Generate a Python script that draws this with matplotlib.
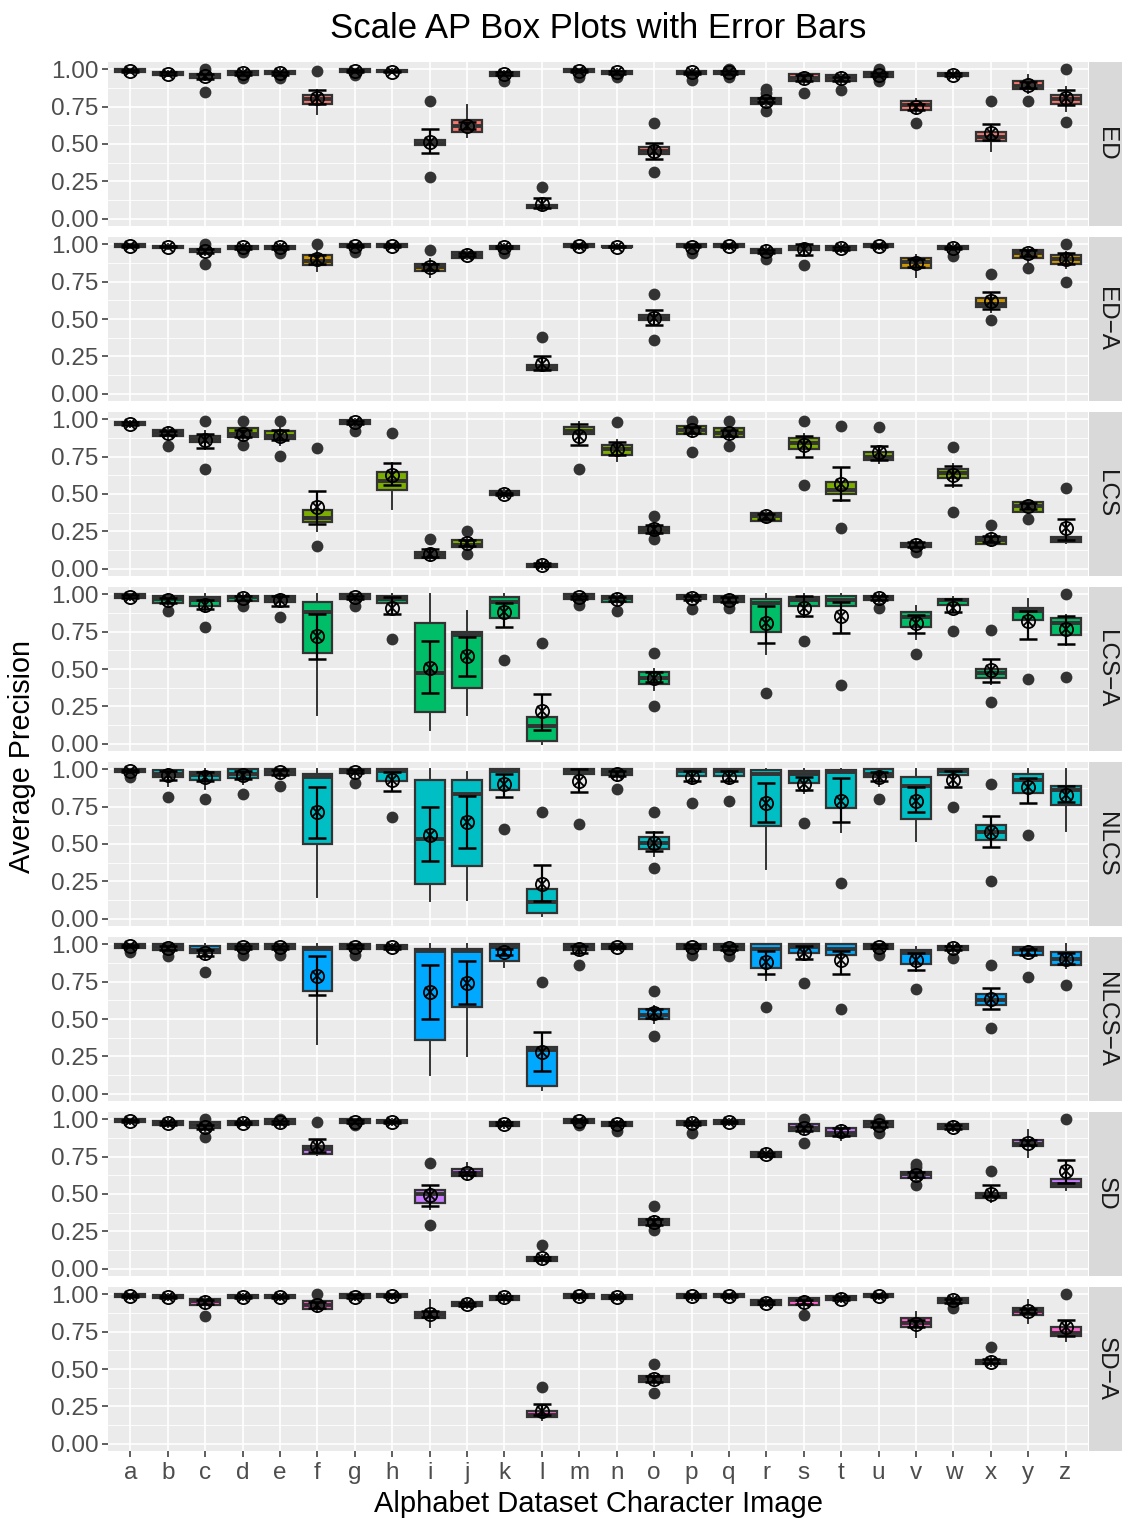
import numpy as np
import matplotlib.pyplot as plt

plt.rcParams["font.family"] = ["Liberation Sans", "DejaVu Sans"]

letters = list("abcdefghijklmnopqrstuvwxyz")
facets = ["ED", "ED\u2212A", "LCS", "LCS\u2212A", "NLCS", "NLCS\u2212A", "SD", "SD\u2212A"]
facet_colors = ["#F8766D", "#CD9600", "#7CAE00", "#00BE67",
                "#00BFC4", "#00A9FF", "#C77CFF", "#FF61CC"]

# box stats per letter: (lower whisker, q1, median, q3, upper whisker)
# mean per letter, error bar (low, high), outliers by letter

ED_box = [(0.98, 0.985, 0.99, 1.0, 1.0), (0.955, 0.965, 0.975, 0.98, 0.99), (0.93, 0.945, 0.96, 0.97, 0.99),
          (0.95, 0.965, 0.98, 0.99, 1.0), (0.955, 0.97, 0.98, 0.99, 1.0), (0.70, 0.77, 0.80, 0.83, 0.86),
          (0.97, 0.98, 0.99, 1.0, 1.0), (0.975, 0.98, 0.99, 0.995, 1.0), (0.47, 0.49, 0.51, 0.53, 0.56),
          (0.55, 0.58, 0.62, 0.66, 0.76), (0.94, 0.955, 0.97, 0.98, 0.99), (0.06, 0.07, 0.08, 0.09, 0.11),
          (0.97, 0.98, 0.99, 1.0, 1.0), (0.96, 0.97, 0.98, 0.99, 1.0), (0.40, 0.43, 0.45, 0.48, 0.50),
          (0.96, 0.97, 0.98, 0.99, 1.0), (0.96, 0.97, 0.98, 0.99, 1.0), (0.76, 0.77, 0.79, 0.81, 0.83),
          (0.90, 0.92, 0.94, 0.97, 0.98), (0.90, 0.92, 0.94, 0.96, 0.98), (0.93, 0.95, 0.97, 0.98, 1.0),
          (0.70, 0.725, 0.76, 0.79, 0.80), (0.94, 0.955, 0.965, 0.975, 0.99), (0.45, 0.52, 0.55, 0.58, 0.60),
          (0.84, 0.87, 0.89, 0.92, 0.96), (0.72, 0.77, 0.80, 0.83, 0.88)]
ED_mean = [0.99, 0.972, 0.955, 0.975, 0.975, 0.81, 0.99, 0.985, 0.515, 0.62, 0.97, 0.10, 0.99,
           0.98, 0.455, 0.98, 0.98, 0.79, 0.94, 0.94, 0.965, 0.75, 0.965, 0.575, 0.895, 0.81]
ED_err = [(0.985, 0.995), (0.965, 0.98), (0.935, 0.97), (0.965, 0.985), (0.965, 0.985), (0.77, 0.86),
          (0.985, 0.995), (0.98, 0.99), (0.44, 0.60), (0.60, 0.645), (0.96, 0.98), (0.07, 0.14),
          (0.985, 0.995), (0.97, 0.99), (0.40, 0.51), (0.97, 0.985), (0.97, 0.99), (0.78, 0.81),
          (0.92, 0.96), (0.92, 0.95), (0.955, 0.975), (0.73, 0.77), (0.955, 0.975), (0.525, 0.635),
          (0.875, 0.915), (0.76, 0.86)]
ED_out = {"c": [1.0, 0.85], "d": [0.94], "e": [0.94], "f": [0.99], "g": [0.965], "i": [0.79, 0.28],
          "k": [0.92], "l": [0.21], "m": [0.95], "n": [0.95], "o": [0.64, 0.31], "p": [0.93],
          "q": [0.95, 1.0], "r": [0.87, 0.84, 0.72], "s": [0.84], "t": [0.86], "u": [0.92, 1.0],
          "v": [0.64], "x": [0.79], "y": [0.79], "z": [1.0, 0.645]}

EDA_box = [(0.98, 0.985, 0.99, 1.0, 1.0), (0.97, 0.975, 0.98, 0.99, 1.0), (0.93, 0.95, 0.96, 0.97, 0.99),
           (0.95, 0.97, 0.98, 0.99, 1.0), (0.95, 0.97, 0.98, 0.99, 1.0), (0.82, 0.86, 0.89, 0.93, 0.96),
           (0.97, 0.98, 0.99, 1.0, 1.0), (0.98, 0.985, 0.99, 1.0, 1.0), (0.78, 0.82, 0.85, 0.87, 0.90),
           (0.90, 0.91, 0.93, 0.95, 0.96), (0.96, 0.97, 0.98, 0.99, 1.0), (0.15, 0.16, 0.17, 0.19, 0.21),
           (0.97, 0.98, 0.99, 1.0, 1.0), (0.97, 0.98, 0.985, 0.99, 1.0), (0.46, 0.49, 0.51, 0.53, 0.55),
           (0.96, 0.98, 0.99, 1.0, 1.0), (0.97, 0.98, 0.99, 1.0, 1.0), (0.91, 0.94, 0.96, 0.97, 0.99),
           (0.93, 0.96, 0.98, 0.99, 1.0), (0.95, 0.965, 0.98, 0.99, 1.0), (0.97, 0.98, 0.99, 1.0, 1.0),
           (0.78, 0.84, 0.88, 0.91, 0.93), (0.95, 0.97, 0.98, 0.99, 1.0), (0.55, 0.58, 0.60, 0.64, 0.66),
           (0.88, 0.91, 0.94, 0.96, 0.97), (0.84, 0.87, 0.90, 0.93, 0.95)]
EDA_mean = [0.99, 0.985, 0.955, 0.98, 0.98, 0.90, 0.99, 0.99, 0.85, 0.93, 0.985, 0.20, 0.99,
            0.985, 0.51, 0.985, 0.99, 0.955, 0.97, 0.975, 0.99, 0.875, 0.975, 0.62, 0.94, 0.90]
EDA_err = [(0.985, 0.995), (0.98, 0.99), (0.94, 0.97), (0.97, 0.99), (0.97, 0.99), (0.87, 0.93),
           (0.985, 0.995), (0.985, 0.995), (0.83, 0.87), (0.92, 0.94), (0.975, 0.99), (0.16, 0.25),
           (0.985, 0.995), (0.98, 0.99), (0.46, 0.56), (0.98, 0.995), (0.98, 0.995), (0.945, 0.965),
           (0.93, 1.0), (0.965, 0.985), (0.98, 0.995), (0.85, 0.90), (0.97, 0.985), (0.57, 0.68),
           (0.92, 0.96), (0.87, 0.94)]
EDA_out = {"c": [1.0, 0.87], "d": [0.95], "e": [0.94], "f": [1.0], "g": [0.95], "i": [0.96],
           "k": [0.94], "l": [0.38], "o": [0.67, 0.36], "p": [0.94], "r": [0.90], "s": [0.86],
           "w": [0.92], "x": [0.80, 0.49], "y": [0.84], "z": [1.0, 0.75]}

LCS_box = [(0.95, 0.96, 0.97, 0.98, 0.99), (0.87, 0.89, 0.91, 0.93, 0.95), (0.80, 0.85, 0.87, 0.89, 0.92),
           (0.86, 0.88, 0.90, 0.94, 0.97), (0.83, 0.87, 0.89, 0.92, 0.95), (0.25, 0.31, 0.34, 0.39, 0.47),
           (0.95, 0.97, 0.98, 0.995, 1.0), (0.40, 0.53, 0.59, 0.65, 0.71), (0.06, 0.07, 0.09, 0.11, 0.13),
           (0.12, 0.145, 0.16, 0.19, 0.22), (0.47, 0.49, 0.50, 0.52, 0.53), (0.0, 0.01, 0.02, 0.03, 0.05),
           (0.85, 0.90, 0.92, 0.95, 0.98), (0.72, 0.76, 0.80, 0.83, 0.86), (0.21, 0.24, 0.26, 0.28, 0.31),
           (0.88, 0.90, 0.93, 0.955, 0.97), (0.86, 0.88, 0.91, 0.94, 0.96), (0.31, 0.32, 0.35, 0.37, 0.38),
           (0.75, 0.80, 0.84, 0.875, 0.90), (0.45, 0.50, 0.53, 0.58, 0.65), (0.71, 0.73, 0.75, 0.78, 0.80),
           (0.12, 0.145, 0.16, 0.17, 0.19), (0.55, 0.61, 0.64, 0.67, 0.70), (0.15, 0.165, 0.19, 0.21, 0.23),
           (0.35, 0.38, 0.42, 0.445, 0.46), (0.17, 0.18, 0.20, 0.21, 0.23)]
LCS_mean = [0.97, 0.91, 0.86, 0.905, 0.89, 0.41, 0.98, 0.63, 0.10, 0.17, 0.50, 0.025, 0.89,
            0.80, 0.265, 0.93, 0.91, 0.35, 0.83, 0.565, 0.78, 0.16, 0.63, 0.20, 0.42, 0.27]
LCS_err = [(0.96, 0.98), (0.895, 0.925), (0.81, 0.90), (0.88, 0.93), (0.86, 0.93), (0.30, 0.52),
           (0.97, 0.99), (0.56, 0.71), (0.08, 0.13), (0.15, 0.19), (0.49, 0.51), (0.015, 0.035),
           (0.83, 0.97), (0.76, 0.85), (0.24, 0.29), (0.91, 0.95), (0.89, 0.93), (0.335, 0.365),
           (0.75, 0.89), (0.46, 0.68), (0.73, 0.82), (0.145, 0.175), (0.56, 0.69), (0.18, 0.22),
           (0.40, 0.44), (0.19, 0.335)]
LCS_out = {"b": [0.82], "c": [0.99, 0.67], "d": [0.99, 0.83], "e": [0.99, 0.755], "f": [0.81, 0.15],
           "g": [0.92], "h": [0.91], "i": [0.20], "j": [0.25, 0.10], "m": [0.67], "n": [0.98],
           "o": [0.35, 0.20], "p": [0.99, 0.78], "q": [0.99, 0.82], "s": [0.99, 0.56],
           "t": [0.955, 0.27], "u": [0.95], "v": [0.11], "w": [0.815, 0.38], "x": [0.295],
           "y": [0.33], "z": [0.54]}

LCSA_box = [(0.96, 0.975, 0.99, 1.0, 1.0), (0.92, 0.945, 0.97, 0.99, 1.0), (0.88, 0.92, 0.96, 0.98, 1.0),
            (0.94, 0.955, 0.98, 0.99, 1.0), (0.93, 0.95, 0.97, 0.99, 1.0), (0.19, 0.61, 0.88, 0.95, 1.0),
            (0.95, 0.97, 0.985, 1.0, 1.0), (0.88, 0.94, 0.97, 0.99, 1.0), (0.09, 0.21, 0.47, 0.81, 1.0),
            (0.19, 0.37, 0.73, 0.75, 0.89), (0.80, 0.845, 0.95, 0.98, 1.0), (0.0, 0.02, 0.12, 0.18, 0.18),
            (0.95, 0.97, 0.985, 1.0, 1.0), (0.92, 0.95, 0.975, 0.99, 1.0), (0.36, 0.40, 0.44, 0.48, 0.50),
            (0.95, 0.97, 0.985, 0.995, 1.0), (0.93, 0.95, 0.97, 0.99, 1.0), (0.60, 0.75, 0.94, 0.97, 1.0),
            (0.85, 0.92, 0.96, 0.98, 1.0), (0.80, 0.92, 0.96, 0.99, 1.0), (0.94, 0.96, 0.98, 0.99, 1.0),
            (0.70, 0.78, 0.85, 0.88, 0.92), (0.88, 0.93, 0.96, 0.97, 0.98), (0.40, 0.44, 0.47, 0.50, 0.53),
            (0.72, 0.83, 0.89, 0.91, 0.97), (0.66, 0.73, 0.81, 0.84, 0.86)]
LCSA_mean = [0.985, 0.96, 0.93, 0.975, 0.96, 0.72, 0.98, 0.91, 0.51, 0.585, 0.88, 0.215, 0.98,
             0.97, 0.44, 0.975, 0.965, 0.81, 0.91, 0.855, 0.975, 0.81, 0.91, 0.49, 0.82, 0.765]
LCSA_err = [(0.975, 0.995), (0.945, 0.975), (0.90, 0.965), (0.96, 0.99), (0.92, 0.99), (0.57, 0.87),
            (0.97, 0.99), (0.87, 0.98), (0.34, 0.69), (0.45, 0.715), (0.78, 0.94), (0.09, 0.33),
            (0.97, 0.99), (0.955, 0.985), (0.41, 0.48), (0.96, 0.99), (0.95, 0.98), (0.675, 0.92),
            (0.855, 0.99), (0.74, 0.95), (0.965, 0.99), (0.74, 0.865), (0.88, 0.97), (0.41, 0.57),
            (0.70, 0.89), (0.67, 0.855)]
LCSA_out = {"b": [0.89], "c": [0.78], "d": [0.92], "e": [0.85], "g": [0.92], "h": [0.70], "k": [0.56],
            "l": [0.675], "m": [0.93], "n": [0.89], "o": [0.61, 0.255], "p": [0.90], "q": [0.91],
            "r": [0.34], "s": [0.69], "t": [0.39], "u": [0.91], "v": [0.60], "w": [0.755],
            "x": [0.76, 0.28], "y": [0.43], "z": [1.0, 0.445]}

NLCS_box = [(0.96, 0.98, 0.99, 1.0, 1.0), (0.89, 0.95, 0.97, 0.995, 1.0), (0.87, 0.93, 0.96, 0.985, 1.0),
            (0.90, 0.945, 0.97, 1.0, 1.0), (0.94, 0.965, 0.98, 1.0, 1.0), (0.146, 0.50, 0.95, 0.97, 1.0),
            (0.95, 0.975, 0.99, 1.0, 1.0), (0.86, 0.92, 0.99, 1.0, 1.0), (0.12, 0.23, 0.535, 0.93, 1.0),
            (0.124, 0.355, 0.835, 0.93, 0.98), (0.82, 0.86, 0.99, 1.0, 1.0), (0.02, 0.04, 0.11, 0.20, 0.21),
            (0.95, 0.97, 0.99, 1.0, 1.0), (0.92, 0.96, 0.98, 1.0, 1.0), (0.42, 0.467, 0.51, 0.546, 0.58),
            (0.90, 0.955, 0.99, 1.0, 1.0), (0.90, 0.955, 0.99, 1.0, 1.0), (0.33, 0.62, 0.97, 0.995, 1.0),
            (0.84, 0.91, 0.97, 0.99, 1.0), (0.58, 0.74, 0.98, 0.995, 1.0), (0.89, 0.95, 0.97, 1.0, 1.0),
            (0.52, 0.67, 0.89, 0.95, 1.0), (0.92, 0.96, 0.99, 1.0, 1.0), (0.50, 0.53, 0.58, 0.63, 0.65),
            (0.78, 0.84, 0.93, 0.97, 1.0), (0.59, 0.76, 0.865, 0.89, 1.0)]
NLCS_mean = [0.99, 0.96, 0.95, 0.96, 0.98, 0.715, 0.985, 0.93, 0.56, 0.65, 0.905, 0.235, 0.92,
             0.97, 0.51, 0.95, 0.95, 0.775, 0.905, 0.79, 0.95, 0.79, 0.93, 0.58, 0.88, 0.83]
NLCS_err = [(0.98, 0.995), (0.93, 0.99), (0.92, 0.98), (0.935, 0.99), (0.965, 0.995), (0.54, 0.88),
            (0.975, 0.995), (0.855, 0.985), (0.385, 0.745), (0.475, 0.82), (0.815, 0.97), (0.12, 0.36),
            (0.85, 1.0), (0.955, 0.99), (0.45, 0.58), (0.92, 0.99), (0.92, 0.99), (0.65, 0.91),
            (0.86, 0.95), (0.65, 0.94), (0.92, 0.98), (0.715, 0.88), (0.88, 0.99), (0.48, 0.685),
            (0.775, 0.94), (0.78, 0.89)]
NLCS_out = {"a": [0.95], "b": [0.815], "c": [0.80], "d": [0.835], "e": [0.89], "g": [0.91], "h": [0.68],
            "k": [0.60], "l": [0.715], "m": [0.635], "n": [0.87], "o": [0.715, 0.34], "p": [0.775],
            "q": [0.79], "s": [0.64], "t": [0.24], "u": [0.80], "w": [0.75], "x": [0.905, 0.25],
            "y": [0.56]}

NLCSA_box = [(0.96, 0.975, 0.99, 1.0, 1.0), (0.93, 0.96, 0.98, 1.0, 1.0), (0.90, 0.94, 0.96, 0.99, 1.0),
             (0.94, 0.97, 0.985, 1.0, 1.0), (0.94, 0.97, 0.985, 1.0, 1.0), (0.33, 0.69, 0.97, 0.98, 1.0),
             (0.95, 0.97, 0.99, 1.0, 1.0), (0.96, 0.97, 0.985, 0.995, 1.0), (0.124, 0.36, 0.955, 0.97, 1.0),
             (0.255, 0.58, 0.955, 0.97, 1.0), (0.85, 0.89, 0.98, 1.0, 1.0), (0.025, 0.05, 0.29, 0.31, 0.33),
             (0.93, 0.96, 0.98, 1.0, 1.0), (0.96, 0.97, 0.99, 1.0, 1.0), (0.47, 0.50, 0.53, 0.57, 0.59),
             (0.95, 0.97, 0.99, 1.0, 1.0), (0.93, 0.96, 0.98, 1.0, 1.0), (0.76, 0.84, 0.97, 1.0, 1.0),
             (0.90, 0.945, 0.98, 1.0, 1.0), (0.86, 0.93, 0.97, 1.0, 1.0), (0.95, 0.97, 0.99, 1.0, 1.0),
             (0.82, 0.87, 0.945, 0.96, 0.98), (0.94, 0.96, 0.98, 0.99, 1.0), (0.57, 0.595, 0.63, 0.67, 0.69),
             (0.92, 0.93, 0.96, 0.98, 0.99), (0.84, 0.86, 0.905, 0.95, 1.0)]
NLCSA_mean = [0.99, 0.975, 0.94, 0.98, 0.98, 0.79, 0.985, 0.98, 0.68, 0.74, 0.95, 0.28, 0.97,
              0.98, 0.54, 0.985, 0.975, 0.885, 0.94, 0.895, 0.985, 0.895, 0.975, 0.635, 0.95, 0.90]
NLCSA_err = [(0.98, 0.995), (0.96, 0.99), (0.92, 0.965), (0.97, 0.99), (0.97, 0.99), (0.66, 0.92),
             (0.975, 0.995), (0.97, 0.99), (0.50, 0.865), (0.60, 0.89), (0.93, 0.97), (0.15, 0.415),
             (0.945, 0.99), (0.975, 0.99), (0.51, 0.57), (0.975, 0.995), (0.96, 0.99), (0.80, 0.955),
             (0.90, 0.99), (0.80, 0.955), (0.975, 0.995), (0.83, 0.94), (0.96, 0.99), (0.57, 0.71),
             (0.93, 0.97), (0.87, 0.94)]
NLCSA_out = {"a": [0.95], "b": [0.92], "c": [0.815], "d": [0.93], "e": [0.93], "g": [0.93], "l": [0.75],
             "m": [0.865], "o": [0.685, 0.385], "p": [0.93], "q": [0.92], "r": [0.58], "s": [0.74],
             "t": [0.565], "u": [0.93], "v": [0.70], "w": [0.91], "x": [0.865, 0.44], "y": [0.78],
             "z": [0.73]}

SD_box = [(0.97, 0.98, 0.99, 1.0, 1.0), (0.95, 0.96, 0.975, 0.99, 1.0), (0.91, 0.94, 0.96, 0.98, 0.99),
          (0.96, 0.965, 0.975, 0.99, 1.0), (0.95, 0.97, 0.98, 1.0, 1.0), (0.76, 0.77, 0.80, 0.82, 0.84),
          (0.96, 0.975, 0.99, 1.0, 1.0), (0.96, 0.975, 0.985, 0.995, 1.0), (0.40, 0.44, 0.50, 0.525, 0.55),
          (0.60, 0.62, 0.64, 0.67, 0.71), (0.94, 0.955, 0.97, 0.985, 0.99), (0.04, 0.05, 0.065, 0.08, 0.09),
          (0.96, 0.975, 0.99, 1.0, 1.0), (0.94, 0.955, 0.97, 0.985, 0.99), (0.28, 0.29, 0.31, 0.33, 0.35),
          (0.94, 0.96, 0.975, 0.99, 1.0), (0.96, 0.97, 0.98, 0.995, 1.0), (0.74, 0.75, 0.76, 0.78, 0.80),
          (0.90, 0.92, 0.945, 0.97, 0.98), (0.86, 0.89, 0.91, 0.94, 0.96), (0.93, 0.95, 0.97, 0.99, 1.0),
          (0.60, 0.61, 0.635, 0.65, 0.67), (0.92, 0.935, 0.95, 0.97, 0.99), (0.445, 0.47, 0.49, 0.51, 0.53),
          (0.75, 0.82, 0.835, 0.865, 0.93), (0.53, 0.55, 0.57, 0.60, 0.63)]
SD_mean = [0.99, 0.975, 0.95, 0.975, 0.98, 0.82, 0.985, 0.985, 0.49, 0.64, 0.97, 0.07, 0.99,
           0.97, 0.31, 0.975, 0.98, 0.765, 0.94, 0.92, 0.965, 0.63, 0.95, 0.50, 0.845, 0.655]
SD_err = [(0.985, 0.995), (0.965, 0.985), (0.935, 0.965), (0.97, 0.985), (0.97, 0.99), (0.78, 0.87),
          (0.975, 0.995), (0.975, 0.99), (0.42, 0.56), (0.63, 0.65), (0.96, 0.98), (0.06, 0.08),
          (0.98, 0.995), (0.96, 0.98), (0.29, 0.33), (0.965, 0.985), (0.975, 0.99), (0.755, 0.775),
          (0.92, 0.955), (0.89, 0.94), (0.95, 0.98), (0.615, 0.645), (0.935, 0.965), (0.485, 0.56),
          (0.83, 0.86), (0.575, 0.73)]
SD_out = {"c": [1.0, 0.88], "e": [1.0], "f": [0.985], "g": [0.96], "i": [0.71, 0.295], "l": [0.16],
          "m": [0.96], "n": [0.92], "o": [0.42, 0.26], "p": [0.91], "s": [1.0, 0.84], "u": [1.0, 0.91],
          "v": [0.70, 0.68, 0.56], "x": [0.655], "z": [1.0]}

SDA_box = [(0.97, 0.98, 0.99, 1.0, 1.0), (0.96, 0.975, 0.985, 0.995, 1.0), (0.90, 0.93, 0.955, 0.97, 0.98),
           (0.96, 0.975, 0.985, 0.995, 1.0), (0.96, 0.975, 0.985, 0.995, 1.0), (0.88, 0.90, 0.93, 0.955, 0.97),
           (0.96, 0.975, 0.99, 1.0, 1.0), (0.97, 0.98, 0.99, 1.0, 1.0), (0.78, 0.84, 0.86, 0.885, 0.96),
           (0.91, 0.92, 0.935, 0.95, 0.96), (0.95, 0.965, 0.98, 0.99, 1.0), (0.16, 0.175, 0.19, 0.217, 0.23),
           (0.96, 0.975, 0.99, 1.0, 1.0), (0.96, 0.97, 0.985, 0.995, 1.0), (0.40, 0.41, 0.43, 0.45, 0.46),
           (0.96, 0.975, 0.99, 1.0, 1.0), (0.97, 0.98, 0.99, 1.0, 1.0), (0.92, 0.93, 0.945, 0.96, 0.97),
           (0.91, 0.93, 0.96, 0.975, 0.99), (0.95, 0.96, 0.975, 0.99, 1.0), (0.97, 0.98, 0.99, 1.0, 1.0),
           (0.715, 0.78, 0.81, 0.84, 0.88), (0.92, 0.94, 0.96, 0.975, 0.99), (0.52, 0.535, 0.55, 0.56, 0.58),
           (0.81, 0.865, 0.89, 0.91, 0.96), (0.69, 0.72, 0.74, 0.78, 0.80)]
SDA_mean = [0.99, 0.985, 0.95, 0.985, 0.985, 0.93, 0.985, 0.99, 0.87, 0.935, 0.98, 0.22, 0.99,
            0.985, 0.43, 0.99, 0.99, 0.945, 0.95, 0.97, 0.99, 0.805, 0.96, 0.55, 0.89, 0.78]
SDA_err = [(0.985, 0.995), (0.975, 0.99), (0.935, 0.965), (0.975, 0.99), (0.975, 0.99), (0.91, 0.95),
           (0.975, 0.995), (0.985, 0.995), (0.85, 0.89), (0.925, 0.945), (0.97, 0.99), (0.19, 0.266),
           (0.98, 0.995), (0.975, 0.99), (0.41, 0.45), (0.98, 0.995), (0.985, 0.995), (0.935, 0.955),
           (0.935, 0.965), (0.96, 0.985), (0.985, 0.995), (0.78, 0.83), (0.945, 0.97), (0.54, 0.565),
           (0.875, 0.905), (0.72, 0.83)]
SDA_out = {"c": [0.855], "f": [1.0], "l": [0.38], "o": [0.535, 0.34], "s": [0.86], "w": [0.91],
           "x": [0.646], "z": [1.0]}

panels = [(ED_box, ED_mean, ED_err, ED_out), (EDA_box, EDA_mean, EDA_err, EDA_out),
          (LCS_box, LCS_mean, LCS_err, LCS_out), (LCSA_box, LCSA_mean, LCSA_err, LCSA_out),
          (NLCS_box, NLCS_mean, NLCS_err, NLCS_out), (NLCSA_box, NLCSA_mean, NLCSA_err, NLCSA_out),
          (SD_box, SD_mean, SD_err, SD_out), (SDA_box, SDA_mean, SDA_err, SDA_out)]

W, H = 1122, 1519
fig = plt.figure(figsize=(W / 100, H / 100), dpi=100)

dark = "#333333"
x = np.arange(1, len(letters) + 1)

for i, (box, mean, err, out) in enumerate(panels):
    top = 62 + 175 * i
    ax = fig.add_axes([108 / W, 1 - (top + 164) / H, 980 / W, 164 / H])
    ax.set_facecolor("#EBEBEB")
    for s in ax.spines.values():
        s.set_visible(False)

    stats = []
    for j, l in enumerate(letters):
        lo, q1, med, q3, hi = box[j]
        stats.append({"whislo": lo, "q1": q1, "med": med, "q3": q3, "whishi": hi,
                      "fliers": out.get(l, []), "label": l})
    ax.bxp(stats, positions=x, widths=0.8, patch_artist=True, showcaps=False,
           boxprops=dict(facecolor=facet_colors[i], edgecolor=dark, linewidth=1.6),
           whiskerprops=dict(color=dark, linewidth=1.4),
           medianprops=dict(color=dark, linewidth=2.8, solid_capstyle="butt"),
           flierprops=dict(marker="o", markerfacecolor=dark, markeredgecolor="none", markersize=8.5),
           zorder=2)

    mean = np.array(mean)
    elo = np.array([e[0] for e in err])
    ehi = np.array([e[1] for e in err])
    ax.errorbar(x, mean, yerr=[mean - elo, ehi - mean], fmt="none", ecolor="black",
                elinewidth=1.6, capsize=6.5, capthick=1.8, zorder=3)
    ax.plot(x, mean, "o", ms=9.5, mfc="none", mec="black", mew=1.3, zorder=4)
    ax.plot(x, mean, "x", ms=6.7, mec="black", mew=1.3, zorder=4)

    ax.set_xlim(0.4, 26.6)
    ax.set_ylim(-0.05, 1.05)
    ax.set_yticks([0, 0.25, 0.5, 0.75, 1.0])
    ax.set_yticklabels(["0.00", "0.25", "0.50", "0.75", "1.00"])
    ax.set_yticks([0.125, 0.375, 0.625, 0.875], minor=True)
    ax.set_xticks(x)
    ax.grid(True, which="major", color="white", linewidth=1.2)
    ax.grid(True, which="minor", axis="y", color="white", linewidth=0.6)
    ax.set_axisbelow(True)
    ax.tick_params(axis="both", which="major", color=dark, length=4, width=1.1,
                   labelsize=17.5, labelcolor="#4D4D4D", pad=3)
    ax.tick_params(axis="y", which="minor", length=0)
    if i == len(panels) - 1:
        ax.set_xticklabels(letters)
        ax.tick_params(axis="x", pad=4)
    else:
        ax.set_xticklabels([])
        ax.tick_params(axis="x", length=0)

    sax = fig.add_axes([1089 / W, 1 - (top + 164) / H, 33 / W, 164 / H])
    sax.set_facecolor("#D9D9D9")
    sax.set_xticks([])
    sax.set_yticks([])
    for s in sax.spines.values():
        s.set_visible(False)
    sax.text(0.5, 0.5, facets[i], rotation=-90, ha="center", va="center",
             fontsize=17.5, color="#1A1A1A", transform=sax.transAxes)

fig.text(598 / W, 1 - 29 / H, "Scale AP Box Plots with Error Bars", ha="center", va="center",
         fontsize=25, color="black")
fig.text(598 / W, 1 - 1504 / H, "Alphabet Dataset Character Image", ha="center", va="center",
         fontsize=21, color="black")
fig.text(22 / W, 1 - 756 / H, "Average Precision", ha="center", va="center", rotation=90,
         fontsize=20.7, color="black")

fig.savefig("out.png", dpi=100)
